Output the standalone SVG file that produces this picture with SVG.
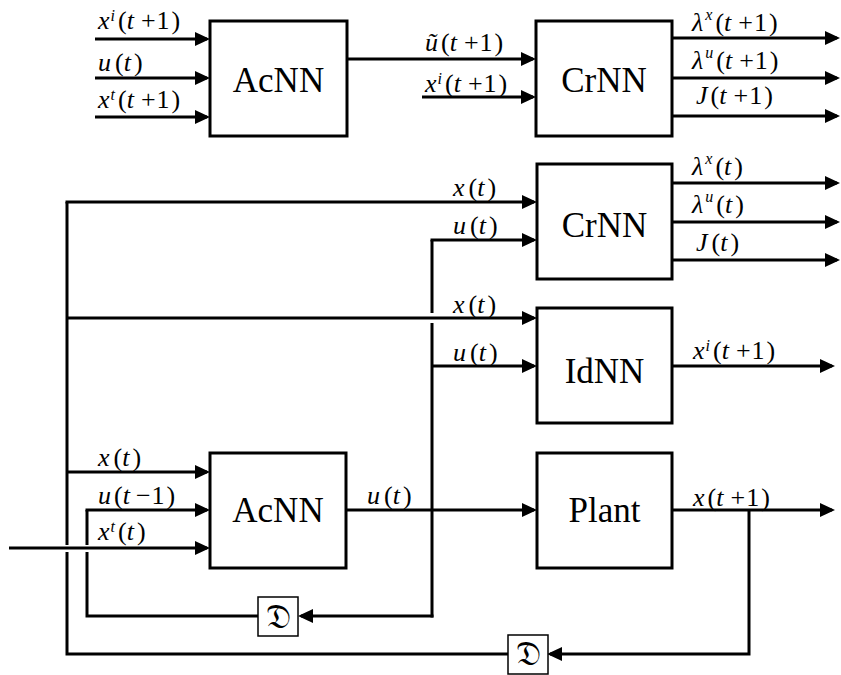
<svg xmlns="http://www.w3.org/2000/svg" width="841" height="675" viewBox="0 0 841 675">
<style>
  .bg{fill:#fff}
  .box{fill:#fff;stroke:#000;stroke-width:3}
  .dbox{fill:#fff;stroke:#000;stroke-width:1.5}
  .ln{fill:none;stroke:#000;stroke-width:3}
  .ar{fill:none;stroke:#000;stroke-width:3;marker-end:url(#a)}
  .lb, .lb tspan, .bl{font-family:"Liberation Serif","Times New Roman",serif;fill:#000}
  .lb{font-size:26px}
  .bl{font-size:35px;text-anchor:middle}
  .lb .i{font-style:italic}
  .lb .s{font-style:italic;font-size:16px}
  .d{font-family:"DejaVu Sans","DejaVu Serif",serif;font-size:34px;text-anchor:middle;fill:#000}
</style>
<defs>
  <marker id="a" viewBox="0 0 15 14" refX="12" refY="7" markerWidth="15" markerHeight="14" markerUnits="userSpaceOnUse" orient="auto">
    <path d="M0,0 L15,7 L0,14 z" fill="#000"/>
  </marker>
</defs>
<rect class="bg" x="0" y="0" width="841" height="675"/>

<g id="connectors">
  <path class="ar" d="M95,39 H207"/>
  <path class="ar" d="M95,78 H207"/>
  <path class="ar" d="M95,117 H207"/>
  <path class="ar" d="M347,59 H533"/>
  <path class="ar" d="M422,97 H533"/>
  <path class="ar" d="M672,38 H837"/>
  <path class="ar" d="M672,78 H837"/>
  <path class="ar" d="M672,116 H837"/>
  <path class="ar" d="M65.5,202 H534"/>
  <path class="ar" d="M430.5,240 H534"/>
  <path class="ar" d="M672,183 H837"/>
  <path class="ar" d="M672,222 H837"/>
  <path class="ar" d="M672,260 H837"/>
  <path class="ar" d="M67,318 H534"/>
  <path class="ar" d="M432,366 H534"/>
  <path class="ar" d="M672,366 H832"/>
  <path class="ar" d="M67,472 H207"/>
  <path class="ar" d="M85.5,510 H207"/>
  <path class="ar" d="M9,548 H207"/>
  <path class="ar" d="M346,510 H534"/>
  <path class="ar" d="M672,510 H832"/>
  <path class="ln" d="M67,202 V545 M67,552 V654 H508"/>
  <path class="ln" d="M87,510 V545 M87,552 V616 H258"/>
  <path class="ln" d="M432,240 V313 M432,323 V617.5"/>
  <path class="ar" d="M433.5,616 H301"/>
  <path class="ar" d="M749,510 V654 H550"/>
</g>

<g id="acnn-top">
  <rect class="box" x="210" y="21" width="137" height="115"/>
  <text class="bl" x="278.5" y="92">AcNN</text>
</g>
<g id="crnn-top">
  <rect class="box" x="536" y="21" width="136" height="115"/>
  <text class="bl" x="604" y="92">CrNN</text>
</g>
<g id="crnn-mid">
  <rect class="box" x="537" y="164" width="135" height="115"/>
  <text class="bl" x="604.5" y="237">CrNN</text>
</g>
<g id="idnn">
  <rect class="box" x="537" y="308" width="135" height="115"/>
  <text class="bl" x="604.5" y="383">IdNN</text>
</g>
<g id="acnn-bottom">
  <rect class="box" x="210" y="453" width="136" height="115"/>
  <text class="bl" x="278" y="522">AcNN</text>
</g>
<g id="plant">
  <rect class="box" x="537" y="453" width="135" height="115"/>
  <text class="bl" x="604.5" y="522">Plant</text>
</g>
<g id="delay-u">
  <rect class="dbox" x="258" y="597" width="40" height="39"/>
  <text class="d" x="278" y="628">𝔇</text>
</g>
<g id="delay-x">
  <rect class="dbox" x="508" y="635" width="40" height="39"/>
  <text class="d" x="528" y="665">𝔇</text>
</g>

<g id="labels">
  <text class="lb" x="98" y="29"><tspan class="i">x</tspan><tspan class="s" dx="1" dy="-8">i</tspan><tspan dx="3" dy="8">(</tspan><tspan class="i">t</tspan><tspan dx="7">+</tspan><tspan dx="1">1</tspan><tspan dx="2">)</tspan></text>
  <text class="lb" x="98" y="71"><tspan class="i">u</tspan><tspan dx="4">(</tspan><tspan class="i">t</tspan><tspan dx="3">)</tspan></text>
  <text class="lb" x="98" y="108"><tspan class="i">x</tspan><tspan class="s" dx="1" dy="-8">t</tspan><tspan dx="3" dy="8">(</tspan><tspan class="i">t</tspan><tspan dx="7">+</tspan><tspan dx="1">1</tspan><tspan dx="2">)</tspan></text>
  <text class="lb" x="425" y="51"><tspan class="i">ũ</tspan><tspan dx="3">(</tspan><tspan class="i">t</tspan><tspan dx="7">+</tspan><tspan dx="1">1</tspan><tspan dx="2">)</tspan></text>
  <text class="lb" x="425" y="92"><tspan class="i">x</tspan><tspan class="s" dx="1" dy="-8">i</tspan><tspan dx="3" dy="8">(</tspan><tspan class="i">t</tspan><tspan dx="7">+</tspan><tspan dx="1">1</tspan><tspan dx="2">)</tspan></text>
  <text class="lb" x="692" y="31"><tspan class="i">λ</tspan><tspan class="s" dx="2" dy="-11">x</tspan><tspan dx="3" dy="11">(</tspan><tspan class="i">t</tspan><tspan dx="7">+</tspan><tspan dx="1">1</tspan><tspan dx="2">)</tspan></text>
  <text class="lb" x="692" y="69"><tspan class="i">λ</tspan><tspan class="s" dx="2" dy="-11">u</tspan><tspan dx="3" dy="11">(</tspan><tspan class="i">t</tspan><tspan dx="7">+</tspan><tspan dx="1">1</tspan><tspan dx="2">)</tspan></text>
  <text class="lb" x="696" y="104"><tspan class="i">J</tspan><tspan dx="3">(</tspan><tspan class="i">t</tspan><tspan dx="7">+</tspan><tspan dx="1">1</tspan><tspan dx="2">)</tspan></text>
  <text class="lb" x="453" y="196"><tspan class="i">x</tspan><tspan dx="4">(</tspan><tspan class="i">t</tspan><tspan dx="3">)</tspan></text>
  <text class="lb" x="453" y="234"><tspan class="i">u</tspan><tspan dx="4">(</tspan><tspan class="i">t</tspan><tspan dx="3">)</tspan></text>
  <text class="lb" x="692" y="175"><tspan class="i">λ</tspan><tspan class="s" dx="2" dy="-11">x</tspan><tspan dx="3" dy="11">(</tspan><tspan class="i">t</tspan><tspan dx="3">)</tspan></text>
  <text class="lb" x="692" y="213"><tspan class="i">λ</tspan><tspan class="s" dx="2" dy="-11">u</tspan><tspan dx="3" dy="11">(</tspan><tspan class="i">t</tspan><tspan dx="3">)</tspan></text>
  <text class="lb" x="696" y="251"><tspan class="i">J</tspan><tspan dx="4">(</tspan><tspan class="i">t</tspan><tspan dx="3">)</tspan></text>
  <text class="lb" x="453" y="313"><tspan class="i">x</tspan><tspan dx="4">(</tspan><tspan class="i">t</tspan><tspan dx="3">)</tspan></text>
  <text class="lb" x="453" y="361"><tspan class="i">u</tspan><tspan dx="4">(</tspan><tspan class="i">t</tspan><tspan dx="3">)</tspan></text>
  <text class="lb" x="693" y="359"><tspan class="i">x</tspan><tspan class="s" dx="1" dy="-8">i</tspan><tspan dx="3" dy="8">(</tspan><tspan class="i">t</tspan><tspan dx="7">+</tspan><tspan dx="1">1</tspan><tspan dx="2">)</tspan></text>
  <text class="lb" x="98" y="466"><tspan class="i">x</tspan><tspan dx="4">(</tspan><tspan class="i">t</tspan><tspan dx="3">)</tspan></text>
  <text class="lb" x="98" y="504"><tspan class="i">u</tspan><tspan dx="3">(</tspan><tspan class="i">t</tspan><tspan dx="6">−</tspan><tspan dx="1">1</tspan><tspan dx="2">)</tspan></text>
  <text class="lb" x="98" y="540"><tspan class="i">x</tspan><tspan class="s" dx="1" dy="-8">t</tspan><tspan dx="3" dy="8">(</tspan><tspan class="i">t</tspan><tspan dx="3">)</tspan></text>
  <text class="lb" x="367" y="504"><tspan class="i">u</tspan><tspan dx="4">(</tspan><tspan class="i">t</tspan><tspan dx="3">)</tspan></text>
  <text class="lb" x="693" y="506"><tspan class="i">x</tspan><tspan dx="3">(</tspan><tspan class="i">t</tspan><tspan dx="7">+</tspan><tspan dx="1">1</tspan><tspan dx="2">)</tspan></text>
</g>
</svg>
